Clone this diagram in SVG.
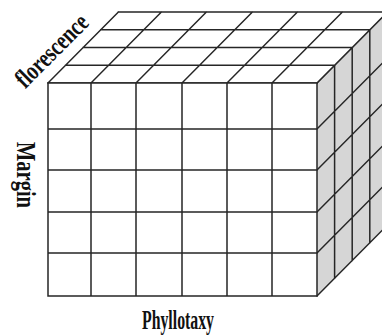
<svg xmlns="http://www.w3.org/2000/svg" width="382" height="335" viewBox="0 0 382 335">
<style>
.g{stroke:#262626;stroke-width:1.5;fill:none;stroke-linecap:square}
.lbl{font-family:"Liberation Serif","DejaVu Serif",serif;font-weight:bold;fill:#111}
</style>
<rect width="382" height="335" fill="#fff"/>
<g id="right-face">
<polygon points="317,83 387.4,12 387.4,225 317,296" fill="#d6d6d6"/>
<path class="g" d="M334.6,65.25V278.25M352.2,47.5V260.5M369.8,29.75V242.75M387.4,12V225
M317,83L387.4,12M317,129L387.4,58M317,170L387.4,99M317,212L387.4,141M317,253L387.4,182M317,296L387.4,225"/>
</g>
<g id="top-face">
<polygon points="48,83 118.4,12 387.4,12 317,83" fill="#fff"/>
<path class="g" d="M48,83H317M65.6,65.25H334.6M83.2,47.5H352.2M100.8,29.75H369.8M118.4,12H387.4
M48,83L118.4,12M91,83L161.4,12M136,83L206.4,12M182,83L252.4,12M227,83L297.4,12M272,83L342.4,12M317,83L387.4,12"/>
</g>
<g id="front-face">
<rect x="48" y="83" width="269" height="213" fill="#fff"/>
<path class="g" d="M48,83V296M91,83V296M136,83V296M182,83V296M227,83V296M272,83V296M317,83V296
M48,83H317M48,129H317M48,170H317M48,212H317M48,253H317M48,296H317"/>
</g>
<g id="labels">
<text class="lbl" font-size="26" text-anchor="middle" textLength="92" lengthAdjust="spacingAndGlyphs" transform="translate(52,51) rotate(-45)" x="0" y="8">florescence</text>
<text class="lbl" font-size="27" textLength="66" lengthAdjust="spacingAndGlyphs" transform="translate(17,142) rotate(90)" x="0" y="0">Margin</text>
<text class="lbl" font-size="28" textLength="72" lengthAdjust="spacingAndGlyphs" x="142" y="329">Phyllotaxy</text>
</g>
</svg>
